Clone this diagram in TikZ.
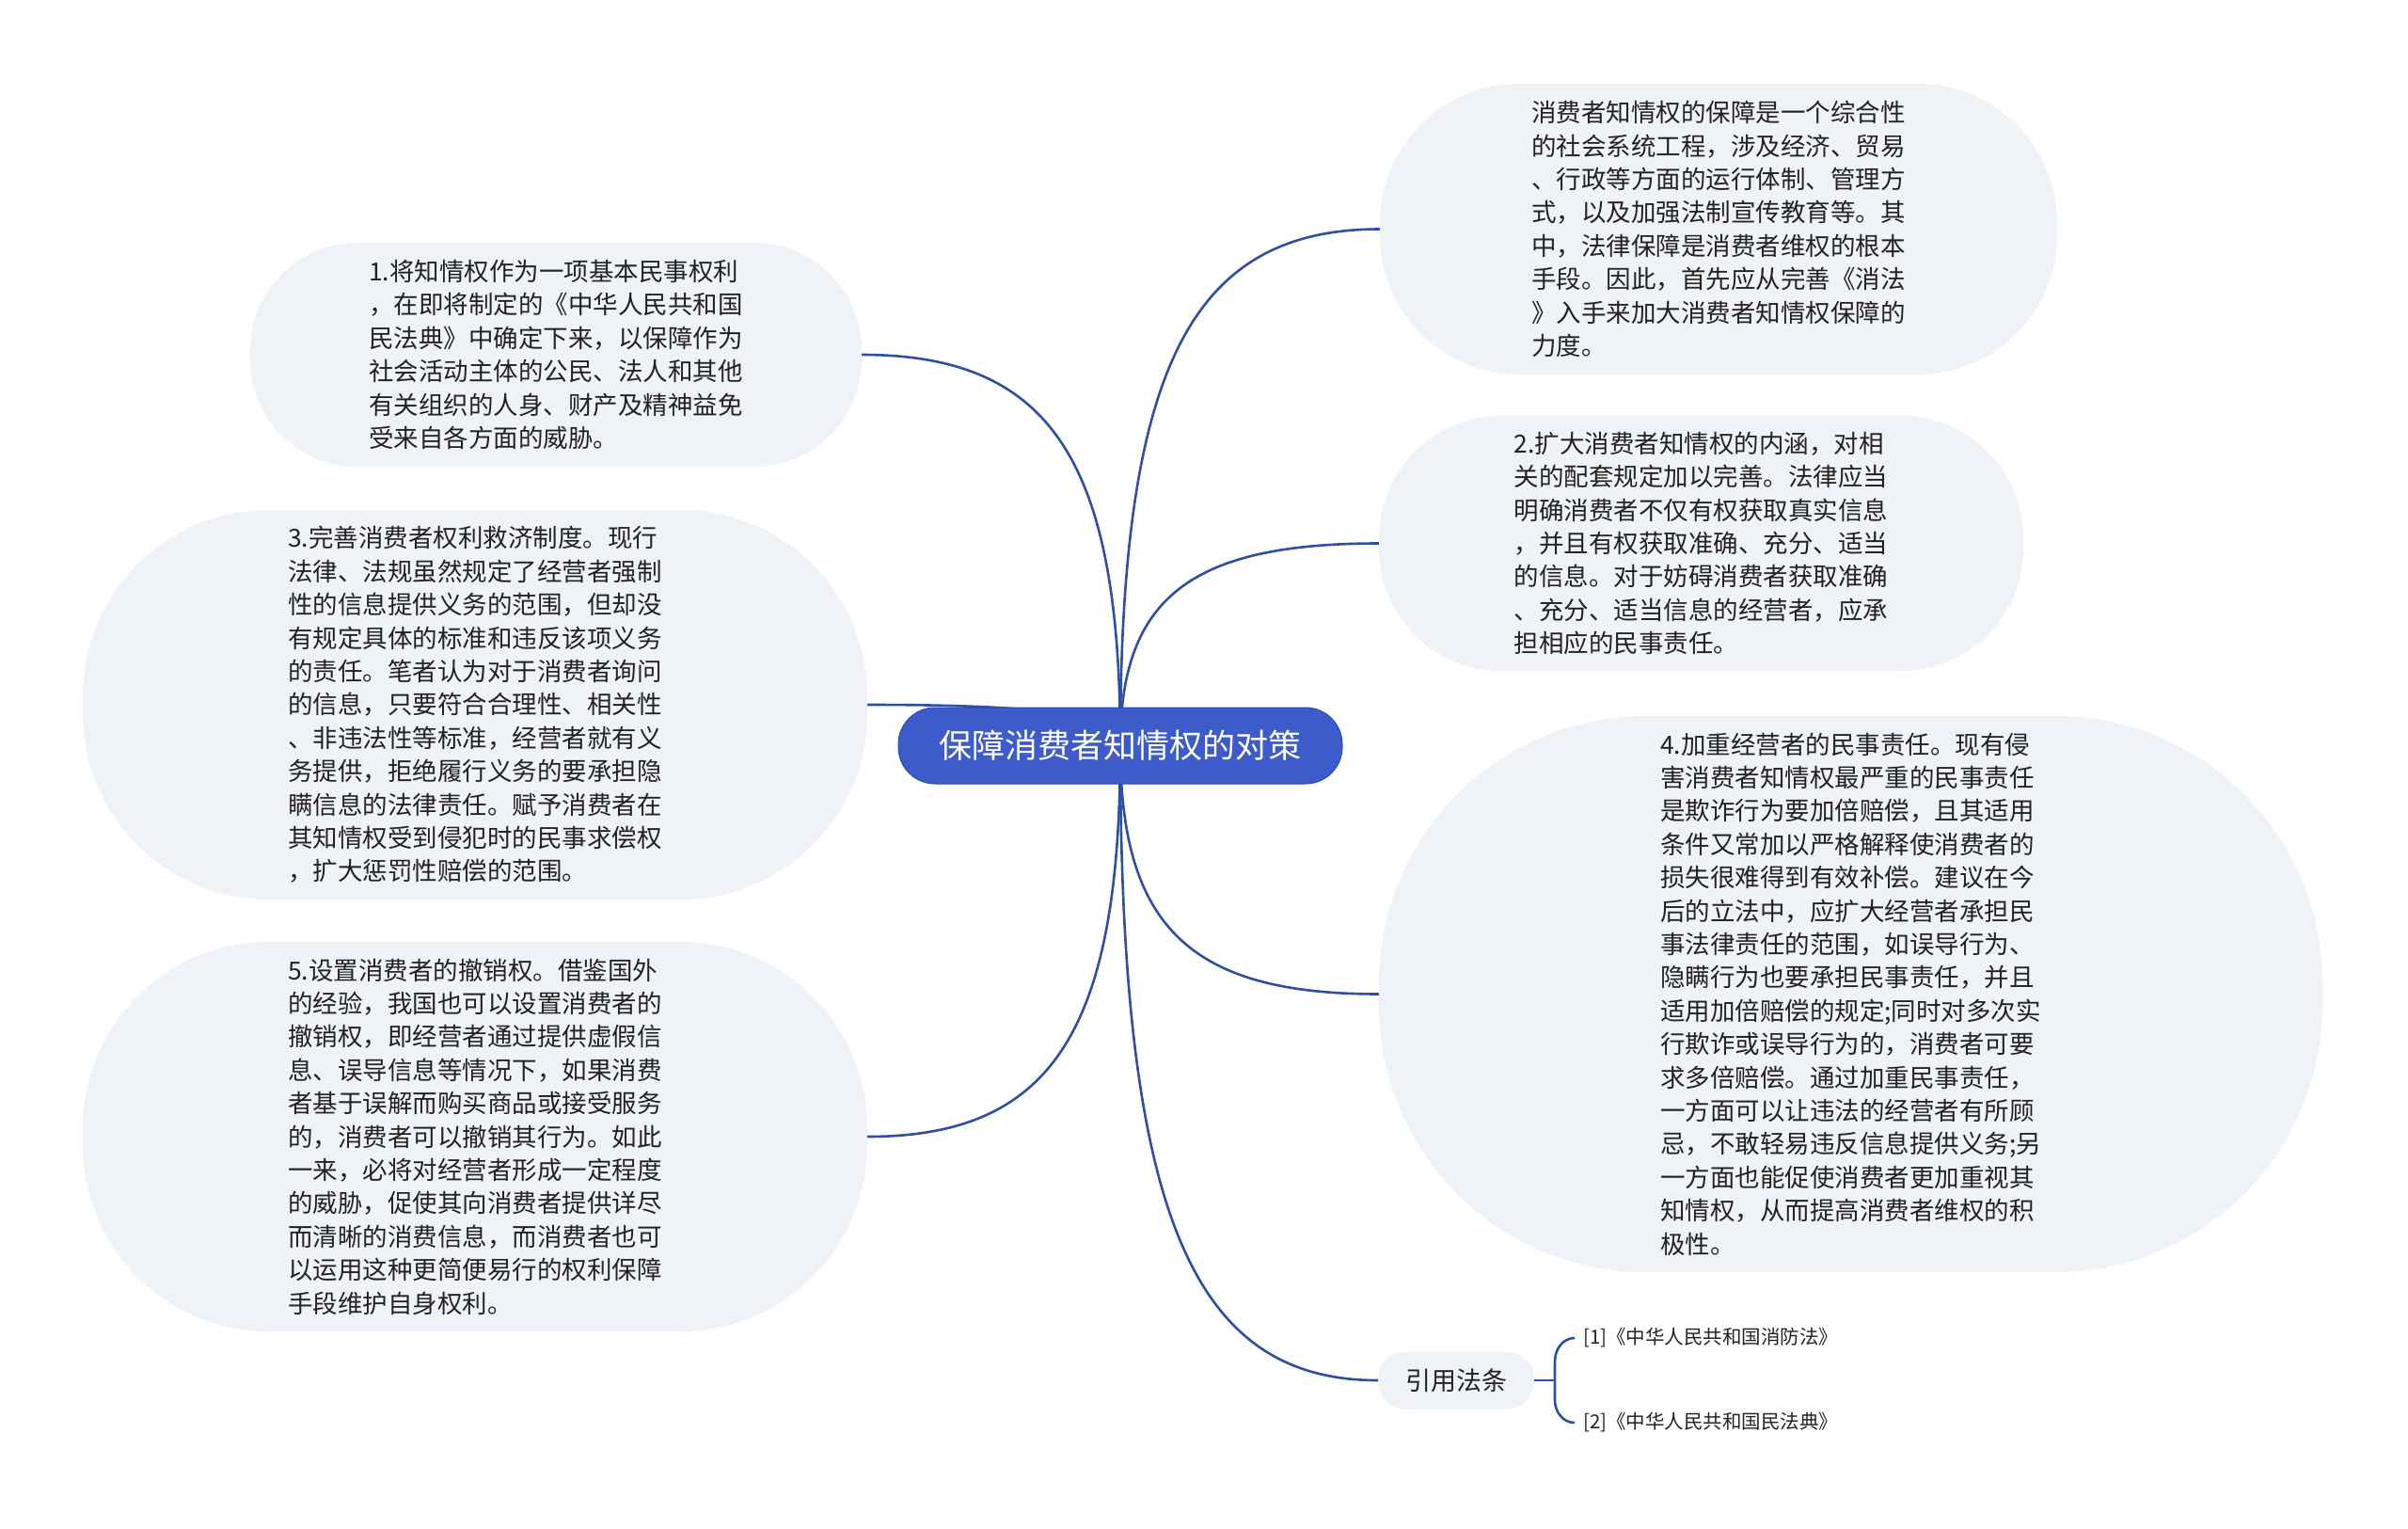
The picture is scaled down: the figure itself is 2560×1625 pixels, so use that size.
\documentclass[tikz,border=0pt]{standalone}
\usepackage{fontspec}
\setmainfont{Noto Sans CJK SC}
\usetikzlibrary{calc,backgrounds,positioning}
\definecolor{RootBlue}{HTML}{3D5BCB}
\definecolor{LineBlue}{HTML}{2F4EA6}
\definecolor{LeafGray}{HTML}{EFF2F6}
\definecolor{InkGray}{HTML}{222222}

\begin{document}
\begin{tikzpicture}[x=1pt, y=-1pt,
    root/.style={fill=RootBlue, draw=LineBlue, line width=1pt, text=white, rounded corners=39pt,
        minimum width=472pt, minimum height=81pt, inner sep=0pt, font=\fontsize{35}{42}\selectfont},
    leaf/.style={fill=LeafGray, text=InkGray, align=left, inner sep=0pt,
        font=\fontsize{26.5}{35.4}\selectfont},
    law/.style={text=InkGray, anchor=west, inner xsep=9pt, inner ysep=0pt,
        font=\fontsize{20.5}{24}\selectfont},
    branch/.style={LineBlue, line width=2.6pt}]

\useasboundingbox (0,0) rectangle (2560,1625);

\node[root] (root) at (1191,792.5) {保障消费者知情权的对策};

% right side
\node[leaf, minimum width=720pt, minimum height=309pt, rounded corners=148pt] (nA) at (1827,243.5) {
消费者知情权的保障是一个综合性\\
的社会系统工程，涉及经济、贸易\\
、行政等方面的运行体制、管理方\\
式，以及加强法制宣传教育等。其\\
中，法律保障是消费者维权的根本\\
手段。因此，首先应从完善《消法\\
》入手来加大消费者知情权保障的\\
力度。};
\node[leaf, minimum width=685pt, minimum height=271pt, rounded corners=130pt] (n2) at (1808.5,577.5) {
2.扩大消费者知情权的内涵，对相\\
关的配套规定加以完善。法律应当\\
明确消费者不仅有权获取真实信息\\
，并且有权获取准确、充分、适当\\
的信息。对于妨碍消费者获取准确\\
、充分、适当信息的经营者，应承\\
担相应的民事责任。};
\node[leaf, minimum width=1003pt, minimum height=591pt, rounded corners=284pt] (n4) at (1967.5,1056.5) {
4.加重经营者的民事责任。现有侵\\
害消费者知情权最严重的民事责任\\
是欺诈行为要加倍赔偿，且其适用\\
条件又常加以严格解释使消费者的\\
损失很难得到有效补偿。建议在今\\
后的立法中，应扩大经营者承担民\\
事法律责任的范围，如误导行为、\\
隐瞒行为也要承担民事责任，并且\\
适用加倍赔偿的规定;同时对多次实\\
行欺诈或误导行为的，消费者可要\\
求多倍赔偿。通过加重民事责任，\\
一方面可以让违法的经营者有所顾\\
忌，不敢轻易违反信息提供义务;另\\
一方面也能促使消费者更加重视其\\
知情权，从而提高消费者维权的积\\
极性。};
\node[leaf, align=center, minimum width=166pt, minimum height=61pt, rounded corners=29pt,
    font=\fontsize{27}{32}\selectfont] (ref) at (1548,1467) {引用法条};

% left side
\node[leaf, minimum width=650pt, minimum height=238pt, rounded corners=114pt] (n1) at (591,377) {
1.将知情权作为一项基本民事权利\\
，在即将制定的《中华人民共和国\\
民法典》中确定下来，以保障作为\\
社会活动主体的公民、法人和其他\\
有关组织的人身、财产及精神益免\\
受来自各方面的威胁。};
\node[leaf, minimum width=834pt, minimum height=414pt, rounded corners=198pt] (n3) at (505,749) {
3.完善消费者权利救济制度。现行\\
法律、法规虽然规定了经营者强制\\
性的信息提供义务的范围，但却没\\
有规定具体的标准和违反该项义务\\
的责任。笔者认为对于消费者询问\\
的信息，只要符合合理性、相关性\\
、非违法性等标准，经营者就有义\\
务提供，拒绝履行义务的要承担隐\\
瞒信息的法律责任。赋予消费者在\\
其知情权受到侵犯时的民事求偿权\\
，扩大惩罚性赔偿的范围。};
\node[leaf, minimum width=834pt, minimum height=414pt, rounded corners=198pt] (n5) at (505,1208) {
5.设置消费者的撤销权。借鉴国外\\
的经验，我国也可以设置消费者的\\
撤销权，即经营者通过提供虚假信\\
息、误导信息等情况下，如果消费\\
者基于误解而购买商品或接受服务\\
的，消费者可以撤销其行为。如此\\
一来，必将对经营者形成一定程度\\
的威胁，促使其向消费者提供详尽\\
而清晰的消费信息，而消费者也可\\
以运用这种更简便易行的权利保障\\
手段维护自身权利。};

% cited laws
\node[law] (l1) at (1674,1422) {[1]《中华人民共和国消防法》};
\node[law] (l2) at (1674,1512) {[2]《中华人民共和国民法典》};
\coordinate (brace) at (1653,1467);

\begin{scope}[on background layer]
\foreach \t in {nA.west, n2.west, n4.west, ref.west, n1.east, n3.east, n5.east}
    \draw[branch] (root.center) .. controls ($(root.center)!.73!(root.center|-\t)$)
        and ($(\t)!.73!(root.center|-\t)$) .. (\t);
\end{scope}
\draw[branch] (ref.east) -- (brace);
\draw[branch] (l1.west) to[out=180,in=90] (brace|-0,1447) -- (brace|-0,1488) to[out=-90,in=180] (l2.west);
\end{tikzpicture}
\end{document}
